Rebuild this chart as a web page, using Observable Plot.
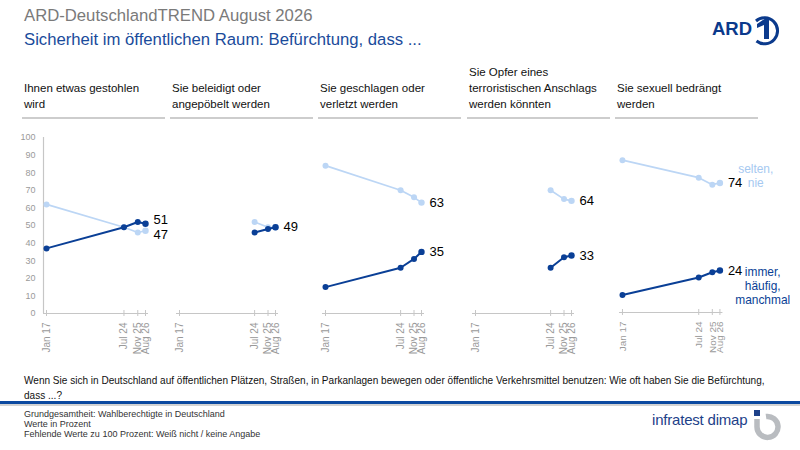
<!DOCTYPE html>
<html><head><meta charset="utf-8">
<script src="https://cdn.jsdelivr.net/npm/d3@7"></script>
<script src="https://cdn.jsdelivr.net/npm/@observablehq/plot@0.6"></script>
<style>
body{margin:0;background:#fff;}
#root{position:relative;width:800px;height:450px;overflow:hidden;font-family:"Liberation Sans",Arial,sans-serif;background:#fff;color:#000;}
.abs{position:absolute;}
.hdr{position:absolute;bottom:331px;width:141px;padding:0 0 5px 2px;border-bottom:2px solid #cdcdcd;font-size:11.5px;line-height:16px;white-space:pre-line;color:#111;}
</style></head><body><div id="root"></div>
<script>
// ---------- data ----------
const surveyDates = ["2017-01", "2024-07", "2025-11", "2026-08"];
const tickLabels = ["Jan 17", "Jul 24", "Nov 25", "Aug 26"];
const topics = [
  "Ihnen etwas gestohlen\nwird",
  "Sie beleidigt oder\nangepöbelt werden",
  "Sie geschlagen oder\nverletzt werden",
  "Sie Opfer eines\nterroristischen Anschlags\nwerden könnten",
  "Sie sexuell bedrängt\nwerden"
];
// immer, häufig, manchmal
const oftValues = [
  [37, 49, 52, 51],
  [null, 46, 48, 49],
  [15, 26, 31, 35],
  [null, 26, 32, 33],
  [10, 20, 23, 24]
];
// selten, nie
const seltenValues = [
  [62, 49, 46, 47],
  [null, 52, 49, 49],
  [84, 70, 66, 63],
  [null, 70, 65, 64],
  [87, 77, 73, 74]
];
const seriesLabels = ["immer,\nhäufig,\nmanchmal", "selten,\nnie"];
const yTicks = [0, 10, 20, 30, 40, 50, 60, 70, 80, 90, 100];

// ---------- styling / layout ----------
const DARK = "#0a3f96", LIGHT = "#bcd6f5", LIGHT_TXT = "#a6c9f1", GRAY = "#c6c6c6", TICKTXT = "#9a9a9a";
const FONT = "Liberation Sans, Arial, sans-serif";
const panelSpan = [[46,145],[179,275],[325,421],[475,571],[622,720]];
const headerLeft = [22, 170, 318, 467, 615];

const root = document.getElementById("root");
const dates = surveyDates.map(s => { const [y,m] = s.split("-").map(Number); return new Date(Date.UTC(y, m-1, 1)); });

function el(tag, cls, css, html){ const e = document.createElement(tag); if(cls) e.className = cls; if(css) e.style.cssText = css; if(html!=null) e.innerHTML = html; root.appendChild(e); return e; }

// titles
el("div","abs","left:24px;top:6px;font-size:16.7px;color:#7a7a7a;white-space:nowrap;","ARD-DeutschlandTREND August 2026");
el("div","abs","left:24px;top:30px;font-size:16.7px;color:#1a4b9b;white-space:nowrap;","Sicherheit im öffentlichen Raum: Befürchtung, dass ...");

// ARD logo
el("div","abs","left:700px;top:8px;width:90px;height:40px;",
 `<svg width="90" height="40" viewBox="0 0 90 40">
   <text x="12" y="27" font-family="${FONT}" font-weight="bold" font-size="18.5" fill="#0b3a8c">ARD</text>
   <path d="M 56 13 A 13 13 0 1 1 56.5 33" fill="none" stroke="#0b3a8c" stroke-width="3"/>
   <path d="M 57 16 L 66 10 L 69 10 L 69 31 L 64 31 L 64 17 L 57 20 Z" fill="#0b3a8c"/>
  </svg>`);

// headers
topics.forEach((t,i) => { const d = el("div","hdr","left:"+headerLeft[i]+"px;"); d.textContent = t; });

// panels
const H = 235, MT = 12, MB = 47, TOP = 125;
const pxPerUnit = (H - MT - MB) / 100;
panelSpan.forEach(([s,e], i) => {
  const first = i === 0, last = i === panelSpan.length - 1;
  const inset = 3;
  const mL = first ? 43 : 4;
  const mR = last ? 78 : 28;
  const width = mL + inset + (e - s) + inset + mR;
  const left = s - inset - mL;

  const oft = [], sel = [];
  dates.forEach((d,j) => {
    if (oftValues[i][j] != null) oft.push({date: d, value: oftValues[i][j], last: j === dates.length-1});
    if (seltenValues[i][j] != null) sel.push({date: d, value: seltenValues[i][j], last: j === dates.length-1});
  });
  const a = oftValues[i][3], b = seltenValues[i][3];
  const labels = [];
  if (a === b) labels.push({value: a, dy: 0});
  else {
    const diff = Math.abs(a - b) * pxPerUnit;
    const push = diff < 15 ? (15 - diff) / 2 : 0;
    labels.push({value: a, dy: a > b ? -push : push});
    labels.push({value: b, dy: b > a ? -push : push});
  }

  const marks = [
    Plot.ruleY([0], {stroke: GRAY, strokeWidth: 1.2}),
    Plot.ruleX(dates, {x: d => d, y1: 0, y2: 0, insetTop: -3, insetBottom: -3, stroke: GRAY, strokeWidth: 1}),
    Plot.axisX({ticks: dates, tickFormat: d => tickLabels[dates.findIndex(x => +x === +d)], tickRotate: -90, tickSize: 0, tickPadding: 9, fontSize: 10, color: TICKTXT, label: null}),
    Plot.line(sel, {x: "date", y: "value", stroke: LIGHT, strokeWidth: 1.7}),
    Plot.dot(sel, {x: "date", y: "value", fill: LIGHT, r: d => d.last ? 2.3 : 2}),
    Plot.line(oft, {x: "date", y: "value", stroke: DARK, strokeWidth: 2}),
    Plot.dot(oft, {x: "date", y: "value", fill: DARK, r: d => d.last ? 2.3 : 2}),
    ...labels.map(l => Plot.text([{date: dates[3], value: l.value}], {x: "date", y: "value", text: d => String(d.value), dx: 8, dy: l.dy, textAnchor: "start", fontSize: 13, fill: "#000"}))
  ];
  if (first) {
    marks.unshift(Plot.ruleX([dates[0]], {dx: -inset, stroke: GRAY, strokeWidth: 1.2}));
    marks.push(Plot.axisY({ticks: yTicks, tickSize: 0, tickPadding: 8, fontSize: 9, color: TICKTXT, label: null}));
  }
  if (last) {
    marks.push(Plot.text([{date: dates[3], value: b}], {x: "date", y: "value", text: () => seriesLabels[1], dx: 36, dy: 4, lineAnchor: "bottom", lineHeight: 1.17, textAnchor: "middle", fontSize: 12, fill: LIGHT_TXT}));
    marks.push(Plot.text([{date: dates[3], value: a}], {x: "date", y: "value", text: () => seriesLabels[0], dx: 43, dy: -4.5, lineAnchor: "top", lineHeight: 1.17, textAnchor: "middle", fontSize: 12, fill: DARK}));
  }

  const chart = Plot.plot({
    width, height: H, marginTop: MT, marginBottom: MB, marginLeft: mL, marginRight: mR,
    style: {fontFamily: FONT, background: "transparent", overflow: "visible"},
    x: {type: "utc", domain: [dates[0], dates[3]], inset, axis: null},
    y: {domain: [0, 100], axis: null},
    marks
  });
  const wrap = el("div","abs","left:"+left+"px;top:"+TOP+"px;");
  wrap.appendChild(chart);
});

// footer
el("div","abs","left:24px;top:373px;width:776px;font-size:10.05px;line-height:15px;color:#111;white-space:nowrap;",
  "Wenn Sie sich in Deutschland auf öffentlichen Plätzen, Straßen, in Parkanlagen bewegen oder öffentliche Verkehrsmittel benutzen: Wie oft haben Sie die Befürchtung,<br>dass ...?");
el("div","abs","left:0;top:401px;width:800px;height:3px;background:#0c49a0;");
el("div","abs","left:0;top:404px;width:800px;height:2px;background:#d3d3d3;");
el("div","abs","left:24px;top:409px;font-size:9px;line-height:10px;color:#333;white-space:nowrap;",
  "Grundgesamtheit: Wahlberechtigte in Deutschland<br>Werte in Prozent<br>Fehlende Werte zu 100 Prozent: Weiß nicht / keine Angabe");
el("div","abs","left:652px;top:411px;font-size:15px;color:#1d4189;white-space:nowrap;letter-spacing:-0.2px;","infratest dimap");
el("div","abs","left:752px;top:407px;width:32px;height:34px;",
 `<svg width="32" height="34" viewBox="0 0 32 34">
   <rect x="2" y="3" width="6" height="6" fill="#1d4189"/>
   <path d="M 5 12 L 5 20 A 10.5 10.5 0 1 0 14 9.5" fill="none" stroke="#b9bcc0" stroke-width="5.5"/>
  </svg>`);
</script>
</body></html>
